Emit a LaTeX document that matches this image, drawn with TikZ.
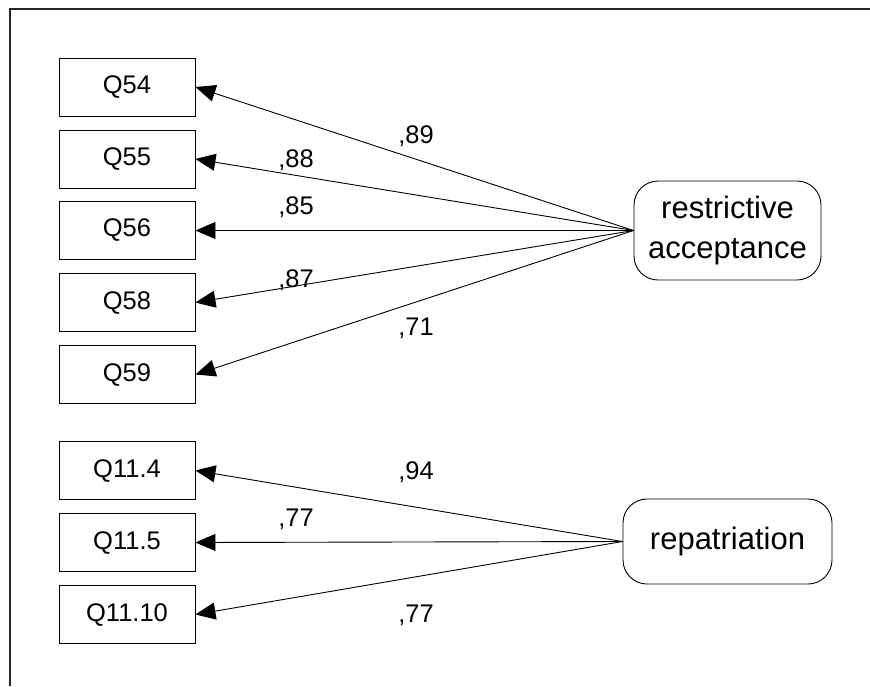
\documentclass[tikz,border=0pt]{standalone}
\usepackage{fontspec}
\setmainfont{Liberation Sans}
\usetikzlibrary{arrows.meta}
\begin{document}
\begin{tikzpicture}[x=1pt,y=-1pt,
 obs/.style={draw, line width=0.9pt, minimum width=136pt, minimum height=58pt, inner sep=0pt, font=\fontsize{25.5}{29}\selectfont},
 lat/.style={draw, line width=0.9pt, rounded corners=24pt, inner sep=0pt, align=center, font=\fontsize{31}{40}\selectfont},
 load/.style={-{Triangle[length=20pt,width=17pt]}, line width=0.9pt},
 lbl/.style={anchor=base, inner sep=0pt, font=\fontsize{25.5}{29}\selectfont}]
\useasboundingbox (0,0) rectangle (870,686);
\draw[line width=1.3pt, black!85] (10,686) -- (10,9) -- (870,9);

\node[obs] (q54) at (127,87) {Q54};
\node[obs] (q55) at (127,159) {Q55};
\node[obs] (q56) at (127,230.5) {Q56};
\node[obs] (q58) at (127,302.5) {Q58};
\node[obs] (q59) at (127,374.5) {Q59};
\node[obs] (q114) at (127,470.5) {Q11.4};
\node[obs] (q115) at (127,542.5) {Q11.5};
\node[obs] (q1110) at (127,614.5) {Q11.10};

\node[lat, minimum width=187pt, minimum height=99pt] (ra) at (727.5,230.5) {restrictive\\acceptance};
\node[lat, minimum width=209pt, minimum height=85pt] (rep) at (727.5,541.5) {repatriation};

\draw[load] (ra.west) -- (q54.east);
\draw[load] (ra.west) -- (q55.east);
\draw[load] (ra.west) -- (q56.east);
\draw[load] (ra.west) -- (q58.east);
\draw[load] (ra.west) -- (q59.east);
\draw[load] (rep.west) -- (q114.east);
\draw[load] (rep.west) -- (q115.east);
\draw[load] (rep.west) -- (q1110.east);

\node[lbl] (l89) at (416,143) {,89};
\node[lbl] (l88) at (296,167) {,88};
\node[lbl] (l85) at (296,214) {,85};
\node[lbl] (l87) at (296,287) {,87};
\node[lbl] (l71) at (416,335) {,71};
\node[lbl] (l94) at (416,479) {,94};
\node[lbl] (l77a) at (296,526) {,77};
\node[lbl] (l77b) at (416,622) {,77};
\end{tikzpicture}
\end{document}
